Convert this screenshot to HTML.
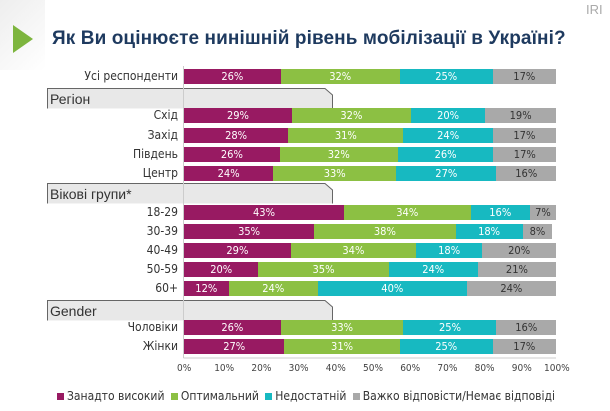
<!DOCTYPE html><html><head><meta charset="utf-8"><style>
body{margin:0;width:610px;height:411px;background:#fff;position:relative;overflow:hidden;font-family:"Liberation Sans","DejaVu Sans",sans-serif}
.t{position:absolute;left:52px;top:28px;font-size:19px;font-weight:bold;color:#1e3a5f;white-space:nowrap;letter-spacing:0.1px}
.tri{position:absolute;left:13px;top:25px;width:0;height:0;border-top:14px solid transparent;border-bottom:14px solid transparent;border-left:20px solid #7db53e}
.iri{position:absolute;left:586px;top:2px;font-size:13px;color:#aaa}
.row{position:absolute;left:184px;height:15px;display:flex}
.row div{height:100%;color:#fff;font-size:11px;text-align:center;line-height:15px;font-family:"DejaVu Sans Condensed","Liberation Sans Narrow","Liberation Sans",sans-serif}
.a{background:#981a62}.b{background:#8cc043}.c{background:#17b9c1}.d{background:#a9a9a9;color:#333!important}
.lab{position:absolute;right:432px;font-size:12px;color:#333;white-space:nowrap;font-family:"DejaVu Sans Condensed","Liberation Sans",sans-serif}
.hd{position:absolute;left:47px;width:285px;height:19px;font-size:14px;color:#333}
.ax{position:absolute;top:363px;font-size:10px;color:#444;font-family:"DejaVu Sans Condensed","Liberation Sans",sans-serif}
.lg{position:absolute;top:389px;left:57px;font-size:12px;color:#333;white-space:nowrap;font-family:"DejaVu Sans Condensed","Liberation Sans",sans-serif}
.sq{display:inline-block;width:7px;height:7px;margin-right:3px}
</style></head><body>
<div style="position:absolute;left:0;top:0;width:45px;height:70px;background:linear-gradient(135deg,#eee,#fff)"></div>
<div class="tri"></div>
<div class="t">Як Ви оцінюєте нинішній рівень мобілізації в Україні?</div>
<div class="iri">IRI</div>
<svg style="position:absolute;left:0;top:0" width="610" height="411">
<g fill="#e8e8e8" stroke="#666" stroke-width="1">
<path d="M47.5,108.5 V88.5 H325 L332.5,95 V108.5"/>
<path d="M47.5,203.5 V183.5 H325 L332.5,190 V203.5"/>
<path d="M47.5,320.5 V300.5 H325 L332.5,307 V320.5"/>
</g>
<line x1="183.5" y1="66" x2="183.5" y2="358" stroke="#ccc"/>
<line x1="183.5" y1="358" x2="556" y2="358" stroke="#ccc"/>
</svg>
<div class="hd" style="top:91px;left:50px">Регіон</div>
<div class="hd" style="top:186px;left:50px">Вікові групи*</div>
<div class="hd" style="top:303px;left:50px">Gender</div>
<div id="rows"></div>
<div class="lg"><span class="sq" style="background:#981a62"></span>Занадто високий <span class="sq" style="background:#8cc043;margin-left:3px"></span>Оптимальний <span class="sq" style="background:#17b9c1;margin-left:3px"></span>Недостатній <span class="sq" style="background:#a9a9a9;margin-left:3px"></span>Важко відповісти/Немає відповіді</div>
<script>
var d=[["Усі респонденти",69,26,32,25,17],["Схід",108,29,32,20,19],["Захід",128,28,31,24,17],["Південь",147,26,32,26,17],["Центр",166,24,33,27,16],
["18-29",205,43,34,16,7],["30-39",224,35,38,18,8],["40-49",243,29,34,18,20],["50-59",262,20,35,24,21],["60+",281,12,24,40,24],
["Чоловіки",320,26,33,25,16],["Жінки",339,27,31,25,17]];
var h="",cl=["a","b","c","d"];
d.forEach(function(r){var s=r[2]+r[3]+r[4]+r[5];var sc=372/Math.max(s,100);
h+='<div class="lab" style="top:'+(r[1]+0)+'px">'+r[0]+'</div><div class="row" style="top:'+r[1]+'px">';
for(var i=0;i<4;i++)h+='<div class="'+cl[i]+'" style="width:'+(r[i+2]*sc).toFixed(1)+'px">'+r[i+2]+'%</div>';
h+='</div>';});
for(var i=0;i<=10;i++){var x=184+i*37.2;h+='<div class="ax" style="left:'+(x-(i==10?12:7))+'px">'+(i*10)+'%</div>';}
document.getElementById("rows").innerHTML=h;
</script>
</body></html>
